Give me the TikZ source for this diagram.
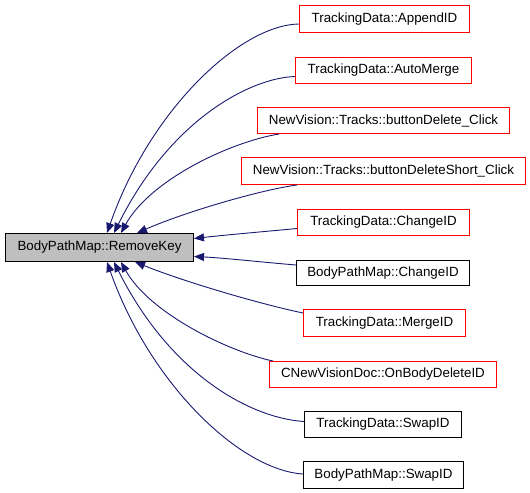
\documentclass[tikz,border=0pt]{standalone}
\usepackage{fontspec}
\setmainfont{Liberation Sans}
\usetikzlibrary{arrows.meta}
\definecolor{edgeblue}{HTML}{191970}
\definecolor{boxgray}{HTML}{BFBFBF}
\definecolor{boxred}{HTML}{FF0000}
\tikzset{
  fn/.style={draw, line width=1bp, minimum height=26bp, inner sep=0pt, font=\fontsize{13.4}{15}\selectfont},
  redfn/.style={fn, color=boxred, text=black},
  mainfn/.style={fn, fill=boxgray},
  callarrow/.style={color=edgeblue, line width=0.9bp, -{Triangle[length=10bp,width=8bp]}},
}
\begin{document}
\begin{tikzpicture}[x=1bp,y=-1bp]
\useasboundingbox (0,0) rectangle (530,493);
\node[mainfn, minimum width=188bp, minimum height=28bp] (L) at (99.5,247.5) {BodyPathMap::RemoveKey};
\node[redfn, minimum width=170bp, minimum height=27bp] (a1) at (384.5,19) {TrackingData::AppendID};
\node[redfn, minimum width=176bp] (a2) at (383.5,70.5) {TrackingData::AutoMerge};
\node[redfn, minimum width=252bp] (a3) at (383.5,120.5) {NewVision::Tracks::buttonDelete\_Click};
\node[redfn, minimum width=284bp, minimum height=27bp] (a4) at (383.5,171) {NewVision::Tracks::buttonDeleteShort\_Click};
\node[redfn, minimum width=172bp] (a5) at (383.5,222.5) {TrackingData::ChangeID};
\node[fn, minimum width=173bp, minimum height=25bp] (a6) at (383,273) {BodyPathMap::ChangeID};
\node[redfn, minimum width=162bp, minimum height=27bp] (a7) at (384.5,323) {TrackingData::MergeID};
\node[redfn, minimum width=227bp] (a8) at (383,374.5) {CNewVisionDoc::OnBodyDeleteID};
\node[fn, minimum width=157bp] (a9) at (383,424.5) {TrackingData::SwapID};
\node[fn, minimum width=160bp, minimum height=27bp] (a10) at (383.5,475) {BodyPathMap::SwapID};

\coordinate (t1) at ([xshift=102bp]L.north west);
\coordinate (t2) at ([xshift=109bp]L.north west);
\coordinate (t3) at ([xshift=116bp]L.north west);
\coordinate (t4) at ([xshift=132bp]L.north west);
\coordinate (t5) at ([yshift=9bp]L.east);
\coordinate (t6) at ([yshift=-9bp]L.east);
\coordinate (t7) at ([xshift=130bp]L.south west);
\coordinate (t8) at ([xshift=116bp]L.south west);
\coordinate (t9) at ([xshift=109bp]L.south west);
\coordinate (t10) at ([xshift=102bp]L.south west);

\draw[callarrow] ([yshift=-5bp]a1.west) .. controls (240,25) and (150,110) .. (t1);
\draw[callarrow] ([yshift=-6bp]a2.west) .. controls (250,78) and (170,120) .. (t2);
\draw[callarrow] ([xshift=22bp]a3.south west) .. controls (230,142) and (150,180) .. (t3);
\draw[callarrow] ([xshift=56bp]a4.south west) .. controls (260,190) and (185,212) .. (t4);
\draw[callarrow] ([yshift=-6bp]a5.west) .. controls (260,232) and (225,235) .. (t5);
\draw[callarrow] ([yshift=8bp]a6.west) .. controls (260,262) and (225,258) .. (t6);
\draw[callarrow] ([yshift=10bp]a7.west) .. controls (260,304) and (185,282) .. (t7);
\draw[callarrow] ([xshift=4bp]a8.north west) .. controls (230,352) and (150,314) .. (t8);
\draw[callarrow] ([yshift=3bp]a9.west) .. controls (250,418) and (170,374) .. (t9);
\draw[callarrow] ([yshift=1bp]a10.west) .. controls (240,470) and (150,384) .. (t10);
\end{tikzpicture}
\end{document}
